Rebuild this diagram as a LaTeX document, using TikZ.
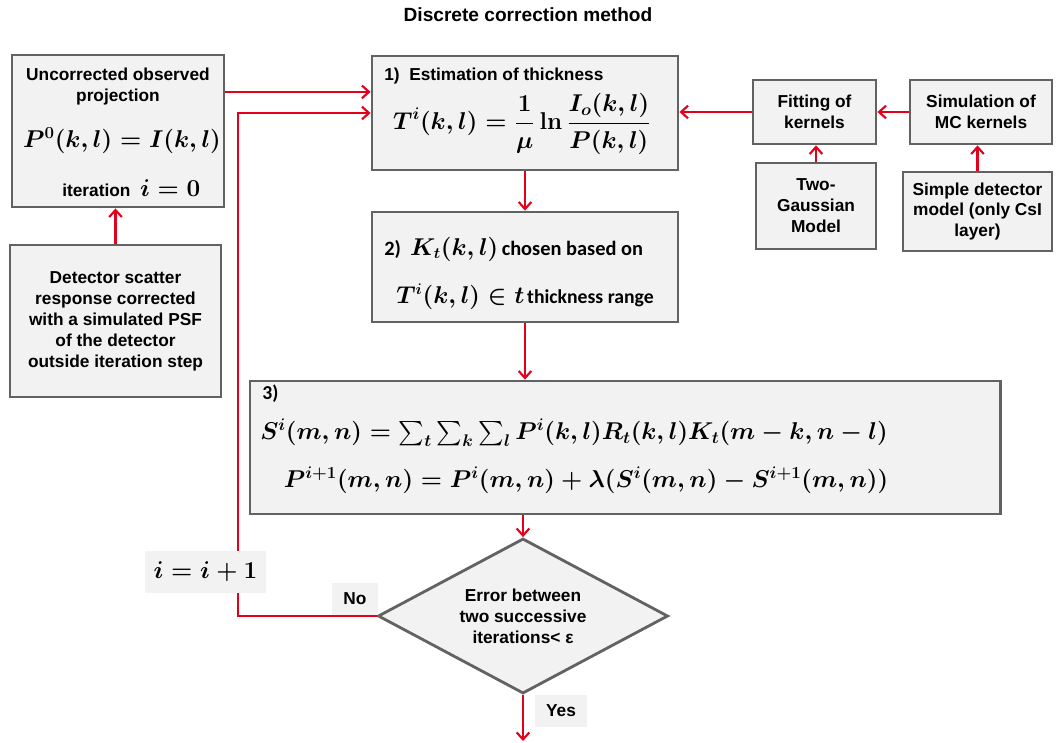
\documentclass[tikz,border=0pt]{standalone}
\usepackage{amsmath}
\usepackage[no-math]{fontspec}
\setmainfont{Liberation Sans}
\newfontfamily\calfont{Carlito}
\definecolor{boxgray}{RGB}{242,242,242}
\definecolor{framegray}{RGB}{98,98,98}
\definecolor{linered}{RGB}{226,0,26}
\tikzset{every picture/.style={/utils/exec={\bfseries}}}
\usetikzlibrary{positioning,shapes.geometric,arrows.meta}

\tikzset{
  block/.style={draw=framegray, fill=boxgray, line width=2pt, inner sep=0pt},
  tag/.style={fill=boxgray, inner sep=0pt},
  flow/.style={draw=linered, line width=1.5pt, -{Straight Barb[length=5pt,width=9pt]}},
  txt/.style={align=center, inner sep=0pt, font=\fontsize{12.3}{14.9}\selectfont},
}
\newcommand{\bigmath}[2]{{\fontsize{#1}{#1}\selectfont\boldmath$#2$}}

\begin{document}
\begin{tikzpicture}[x=0.025cm, y=-0.025cm]
  \useasboundingbox (0,0) rectangle (1056,742);

  \node [txt, font=\fontsize{13.6}{16}\selectfont] (title) at (528,15) {Discrete correction method};

  % boxes
  \node [block, minimum width=5.3cm, minimum height=3.8cm] (start) at (118,131) {};
  \node [block, minimum width=5.275cm, minimum height=3.8cm] (psf) at (115.5,321) {};
  \node [block, minimum width=7.65cm, minimum height=2.85cm] (thick) at (525,113) {};
  \node [block, minimum width=7.65cm, minimum height=2.75cm] (kernel) at (525,267) {};
  \node [block, minimum width=18.75cm, minimum height=3.325cm] (conv) at (625,447.5) {};
  \node [block, minimum width=3.075cm, minimum height=1.6cm] (fit) at (814.5,112) {};
  \node [block, minimum width=3.55cm, minimum height=1.6cm] (sim) at (981,112) {};
  \node [block, minimum width=3cm, minimum height=2.15cm] (gauss) at (816,206) {};
  \node [block, minimum width=3.725cm, minimum height=1.975cm] (detector) at (977.5,211.5) {};
  \node [block, diamond, minimum width=7.25cm, minimum height=3.875cm] (check) at (523,616) {};

  % texts
  \node [txt] (starttxt) at (118,87) {Uncorrected observed\\projection};
  \node [txt] (startmath) at (122,141) {\bigmath{18}{P^0(k,l) = I(k,l)}};
  \node [txt, anchor=west] (iter) at (62,188) {iteration \ \bigmath{19}{i = 0}};
  \node [txt] (psftxt) at (115.5,321) {Detector scatter\\response corrected\\with a simulated PSF\\of the detector\\outside iteration step};
  \node [txt, anchor=west] (thicktxt) at (384,76) {1)\ \ Estimation of thickness};
  \node [txt] (thickmath) at (522,124) {\bigmath{17}{\displaystyle T^i(k,l) = \frac{1}{\mu}\ln\frac{I_o(k,l)}{P(k,l)}}};
  \node [txt, anchor=west] (kerneltxt) at (384,249) {\calfont\fontsize{14.5}{16}\selectfont 2)\ \ \bigmath{16}{K_t(k,l)}\,chosen based on};
  \node [txt] (rangetxt) at (525,297) {\bigmath{16}{T^i(k,l) \in t}\,\calfont\fontsize{14}{16}\selectfont thickness range};
  \node [txt, anchor=west] (convtxt) at (262,394) {\calfont\fontsize{14}{16}\selectfont 3)};
  \node [txt] (convsum) at (574,433) {\bigmath{17}{S^i(m,n) = \textstyle\sum_t\sum_k\sum_l P^i(k,l)R_t(k,l)K_t(m-k,n-l)}};
  \node [txt] (convupd) at (586,480) {\bigmath{16.6}{P^{i+1}(m,n) = P^i(m,n) + \lambda(S^i(m,n) - S^{i+1}(m,n))}};
  \node [txt] (fittxt) at (814.5,112) {Fitting of\\kernels};
  \node [txt] (simtxt) at (981,112) {Simulation of\\MC kernels};
  \node [txt] (gausstxt) at (816,206) {Two-\\Gaussian\\Model};
  \node [txt] (dettxt) at (977.5,211.5) {Simple detector\\model (only CsI\\layer)};
  \node [txt] (checktxt) at (523,616) {Error between\\two successive\\iterations< ε};

  % connectors
  \coordinate (back) at (238,616);
  \coordinate (done) at (523,741);
  \draw [flow] (start.20) -- (start.20 -| thick.west);
  \draw [flow] (check.west) -- (back) |- (thick.west);
  \draw [flow] (psf.north) -- (psf.north |- start.south);
  \draw [flow] (thick.south) -- (kernel.north);
  \draw [flow] (kernel.south) -- (kernel.south |- conv.north);
  \draw [flow] (check.north |- conv.south) -- (check.north);
  \draw [flow] (check.south) -- (done);
  \draw [flow] (fit.west) -- (fit.west -| thick.east);
  \draw [flow] (sim.west) -- (fit.east);
  \draw [flow] (gauss.north) -- (gauss.north |- fit.south);
  \draw [flow] (detector.north) -- (detector.north |- sim.south);

  % labels on the loop
  \node [tag, minimum width=3.025cm, minimum height=1.05cm] (incr) at (205.5,572) {\bigmath{16}{i = i + 1}};
  \node [tag, txt, minimum width=1.15cm, minimum height=0.8cm] (no) at (355,599) {No};
  \node [tag, txt, minimum width=1.3cm, minimum height=0.8cm] (yes) at (561,711) {Yes};
\end{tikzpicture}
\end{document}
